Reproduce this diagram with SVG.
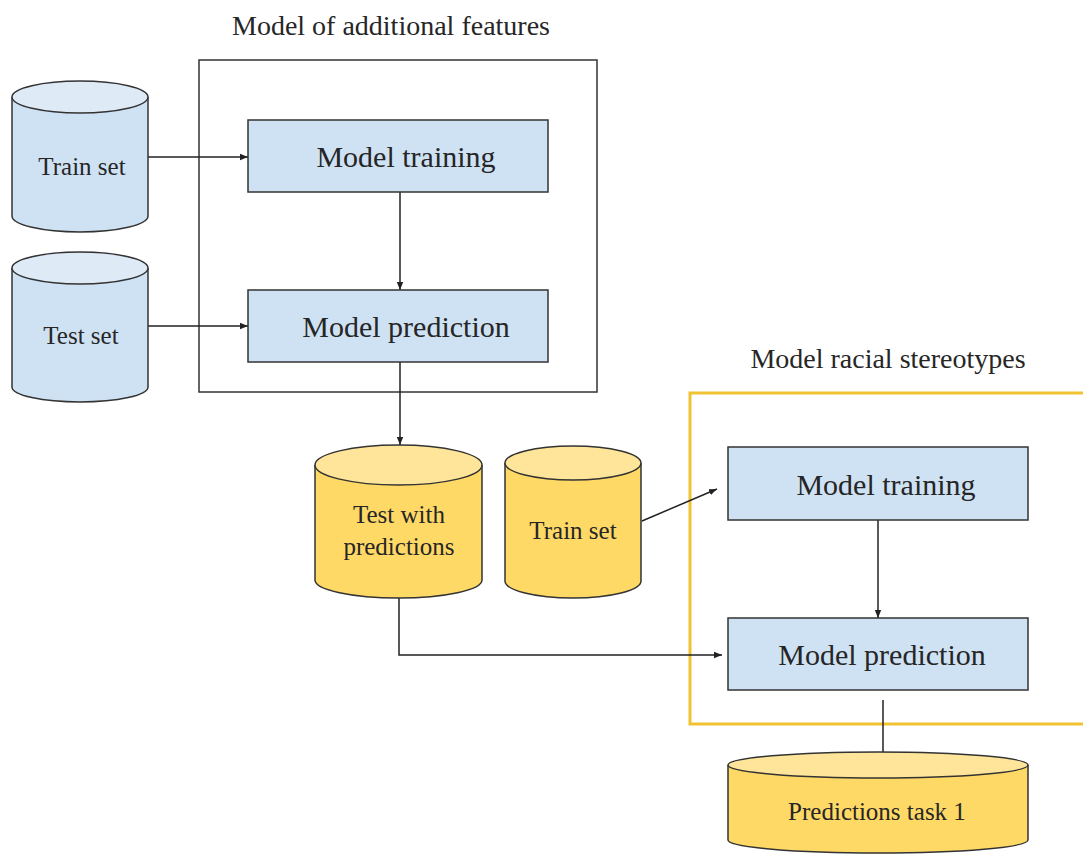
<svg xmlns="http://www.w3.org/2000/svg" width="1083" height="855" viewBox="0 0 1083 855">
<defs>
<marker id="ah" viewBox="0 0 10 10" refX="10" refY="5" markerWidth="8" markerHeight="8" markerUnits="userSpaceOnUse" orient="auto"><path d="M0,1 L10,5 L0,9 z" fill="#222"/></marker>
<style>
.t{fill:#262626;text-anchor:middle}
.box{fill:#cfe2f3;stroke:#333;stroke-width:1.5}
.blue{fill:#cfe2f3;stroke:#333;stroke-width:1.5}
.bluetop{fill:#deebf7;stroke:#333;stroke-width:1.5}
.yel{fill:#ffd966;stroke:#333;stroke-width:1.5}
.yeltop{fill:#ffe599;stroke:#333;stroke-width:1.5}
.con{fill:none;stroke:#222;stroke-width:1.5}
</style>
</defs>
<rect width="1083" height="855" fill="#fff"/>
<g font-family="Liberation Serif, DejaVu Serif, serif">
<g id="group-additional">
<rect x="199" y="60" width="398" height="332" fill="none" stroke="#333" stroke-width="1.5"/>
<text class="t" x="391" y="35" font-size="28">Model of additional features</text>
</g>
<g id="group-racial">
<rect x="690" y="393" width="400" height="331" fill="none" stroke="#f1c232" stroke-width="3"/>
<text class="t" x="888" y="368" font-size="28">Model racial stereotypes</text>
</g>
<g id="connectors">
<line class="con" x1="148" y1="157" x2="248" y2="157" marker-end="url(#ah)"/>
<line class="con" x1="148" y1="326" x2="248" y2="326" marker-end="url(#ah)"/>
<line class="con" x1="400" y1="192" x2="400" y2="290" marker-end="url(#ah)"/>
<line class="con" x1="400" y1="362" x2="400" y2="445" marker-end="url(#ah)"/>
<line class="con" x1="642" y1="521" x2="717" y2="489" marker-end="url(#ah)"/>
<line class="con" x1="878" y1="520" x2="878" y2="618" marker-end="url(#ah)"/>
<polyline class="con" points="399,598 399,655 722,655" marker-end="url(#ah)"/>
<line class="con" x1="883" y1="700" x2="883" y2="752"/>
</g>
<g id="train-set-1">
<path class="blue" d="M12,97 L12,216 A68,16 0 0 0 148,216 L148,97"/>
<ellipse class="bluetop" cx="80" cy="97" rx="68" ry="16"/>
<text class="t" x="82" y="175" font-size="25">Train set</text>
</g>
<g id="test-set-1">
<path class="blue" d="M12,268 L12,387 A68,15 0 0 0 148,387 L148,268"/>
<ellipse class="bluetop" cx="80" cy="268" rx="68" ry="16"/>
<text class="t" x="81" y="344" font-size="25">Test set</text>
</g>
<g id="model-training-1">
<rect class="box" x="248" y="120" width="300" height="72"/>
<text class="t" x="406" y="167" font-size="30">Model training</text>
</g>
<g id="model-prediction-1">
<rect class="box" x="248" y="290" width="300" height="72"/>
<text class="t" x="406" y="337" font-size="30">Model prediction</text>
</g>
<g id="test-with-predictions">
<path class="yel" d="M315,465 L315,580 A83.5,18 0 0 0 482,580 L482,465"/>
<ellipse class="yeltop" cx="398.5" cy="465" rx="83.5" ry="20"/>
<text class="t" x="399" y="523" font-size="25">Test with</text>
<text class="t" x="399" y="555" font-size="25">predictions</text>
</g>
<g id="train-set-2">
<path class="yel" d="M505,463 L505,581 A68,17 0 0 0 641,581 L641,463"/>
<ellipse class="yeltop" cx="573" cy="463" rx="68" ry="17"/>
<text class="t" x="573" y="539" font-size="25">Train set</text>
</g>
<g id="model-training-2">
<rect class="box" x="728" y="447" width="300" height="73"/>
<text class="t" x="886" y="495" font-size="30">Model training</text>
</g>
<g id="model-prediction-2">
<rect class="box" x="728" y="618" width="300" height="72"/>
<text class="t" x="882" y="665" font-size="30">Model prediction</text>
</g>
<g id="predictions-task-1">
<path class="yel" d="M728,765 L728,840 A150,13 0 0 0 1028,840 L1028,765"/>
<ellipse class="yeltop" cx="878" cy="765" rx="150" ry="13"/>
<text class="t" x="877" y="820" font-size="25">Predictions task 1</text>
</g>
</g>
</svg>
